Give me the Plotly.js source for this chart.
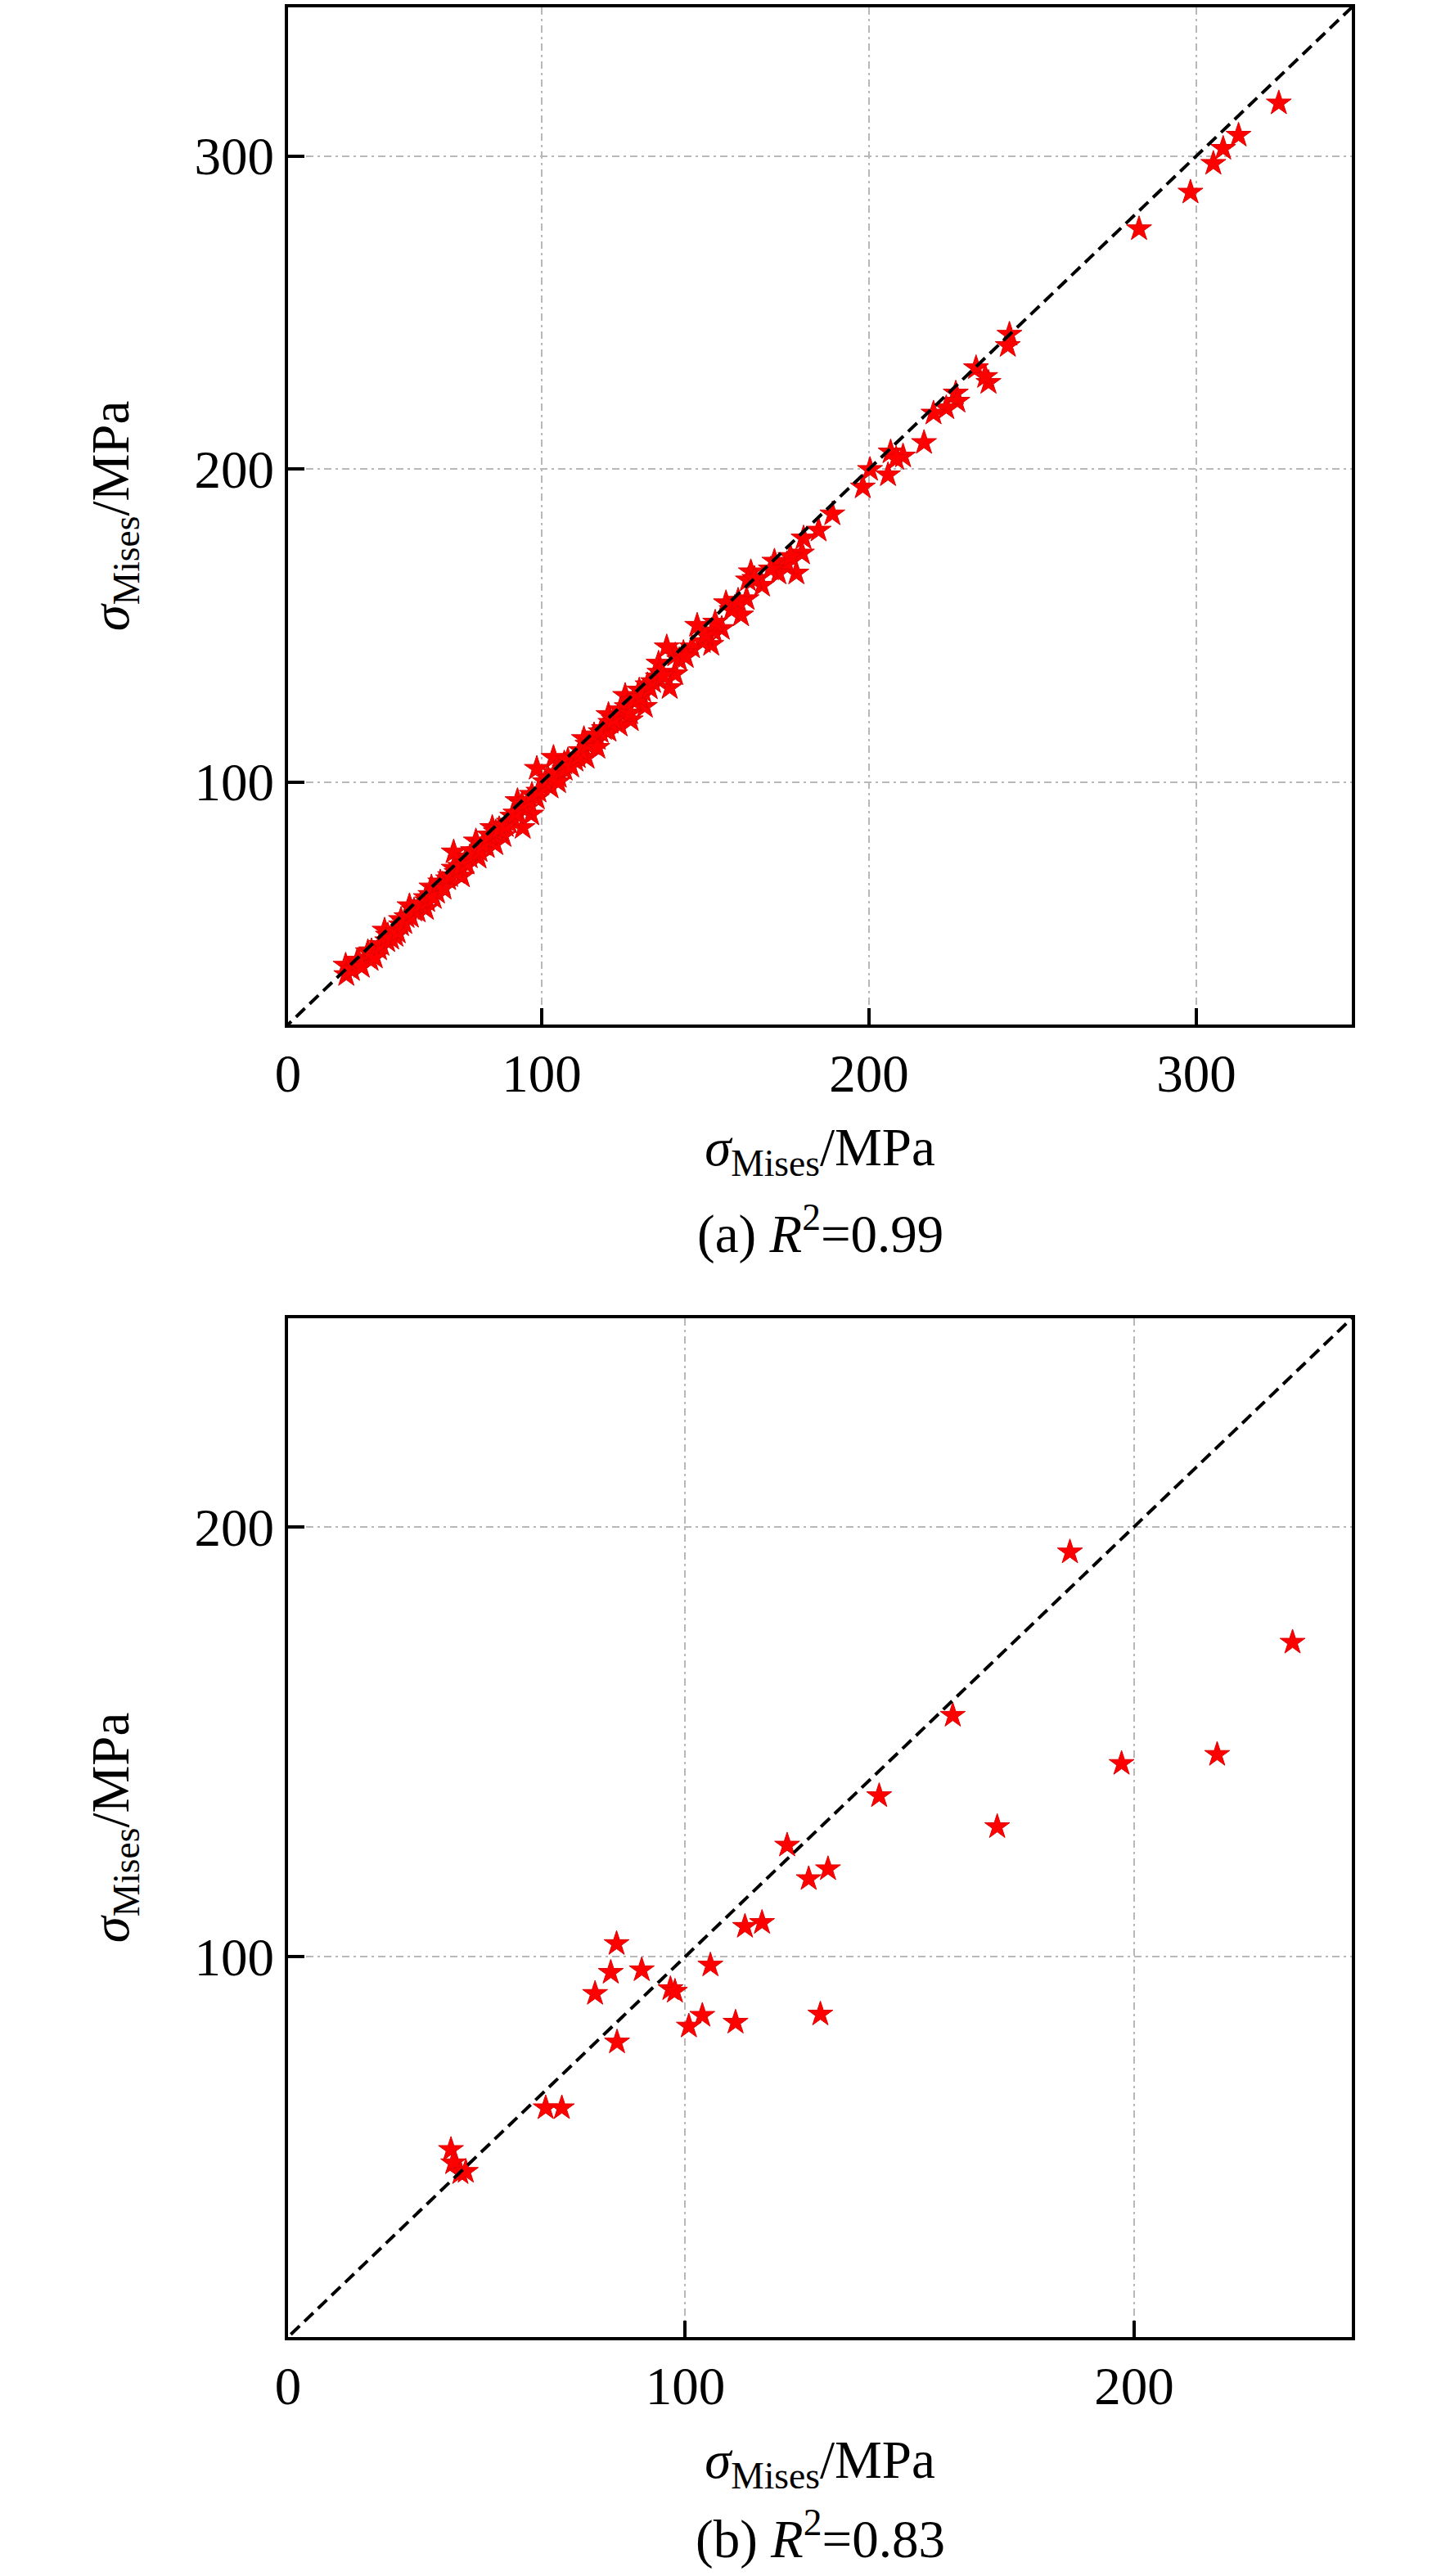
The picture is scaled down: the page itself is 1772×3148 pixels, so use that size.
<!DOCTYPE html>
<html>
<head>
<meta charset="utf-8">
<script src="https://cdn.plot.ly/plotly-3.0.1.min.js"></script>
<style>
  html, body { margin: 0; padding: 0; background: #fff; }
  #chart { width: 1772px; height: 3148px; }
</style>
</head>
<body>
<div id="chart"></div>
<script>
// Two parity plots (a) / (b): sigma_Mises vs sigma_Mises, red stars + dashed y=x line.

// ---- panel (a) data ----
const aX = [
  325.2, 312.9, 308.2, 305.2, 298.2, 282.5, 242.9, 242.4, 232.7, 236.5, 235.5, 226.5, 227.0, 223.6, 219.7,
  216.8, 210.4, 206.6, 208.3, 205.8, 200.3, 198.1, 188.8, 184.6, 180.0, 179.5, 177.8, 174.9, 172.3, 171.1,
  167.3, 163.9, 163.0, 162.6, 160.9, 156.3, 155.0, 152.6, 151.8, 149.2, 147.5, 145.9, 143.3, 140.8, 140.8,
  139.1, 138.2, 135.7, 135.5, 132.3, 131.5, 129.8, 127.2, 125.5, 123.8, 120.4, 120.4, 117.1, 115.4, 113.7,
  112.9, 110.3, 106.9, 105.2, 103.6, 102.7, 98.5, 98.5, 96.8, 95.1, 94.2, 92.6, 90.0, 88.3, 85.8,
  84.9, 83.2, 80.7, 79.9, 76.5, 75.6, 73.1, 73.1, 71.4, 69.7, 68.0, 66.3, 64.6, 64.6, 62.1,
  59.6, 58.7, 57.0, 55.3, 52.0, 52.8, 50.3, 46.9, 47.7, 43.5, 40.1, 40.3,
  42, 44, 45, 48, 49, 51, 53, 54, 56, 57, 58, 60, 61, 63, 65, 66, 67, 69, 70, 72,
  74, 75, 77, 78, 79, 81, 82, 84, 86, 87, 89, 91, 92, 94, 96, 97, 99, 101, 102, 104,
  105, 107, 108, 109, 111, 112, 114, 116, 117, 118, 119, 121, 122, 124, 126, 127, 128, 130, 131, 133,
  134, 136, 137, 142, 144, 150, 153, 158, 160, 165, 170, 176
];
const aY = [
  316.9, 306.6, 302.4, 297.6, 288.4, 276.7, 243.0, 239.4, 232.3, 227.6, 229.5, 224.2, 221.6, 219.5, 217.8,
  208.4, 204.1, 205.4, 203.3, 198.1, 199.8, 194.2, 185.6, 180.4, 177.9, 173.1, 166.7, 169.7, 166.7, 170.5,
  162.8, 167.1, 164.5, 158.5, 153.3, 157.2, 149.0, 148.2, 143.9, 144.8, 150.0, 143.1, 141.3, 140.5, 134.5,
  130.1, 143.1, 137.9, 133.5, 131.0, 124.1, 129.3, 119.8, 127.6, 118.1, 116.4, 121.5, 113.8, 112.1, 107.8,
  113.8, 106.9, 106.0, 101.7, 107.8, 98.3, 94.8, 104.3, 89.7, 91.4, 85.4, 94.0, 87.1, 82.8, 80.2,
  85.4, 79.3, 75.9, 81.1, 74.2, 69.9, 72.4, 77.6, 69.0, 67.3, 64.7, 66.4, 63.0, 59.5, 58.7,
  60.4, 56.9, 54.3, 50.9, 52.6, 49.2, 46.6, 45.7, 43.2, 42.3, 41.4, 38.4,
  40, 43, 41, 46, 44, 48, 51, 50, 52, 56, 55, 57, 59, 61, 62, 64, 63, 68, 66, 70,
  71, 73, 74, 76, 78, 78, 80, 83, 84, 85, 86, 89, 90, 93, 94, 96, 97, 100, 101, 103,
  100, 104, 107, 105, 108, 110, 112, 115, 111, 116, 117, 119, 120, 123, 124, 122, 126, 127, 129, 130,
  132, 135, 134, 139, 140, 147, 151, 155, 158, 165, 168, 172
];

// ---- panel (b) data ----
const bX = [
  185.7, 235.3, 159.6, 197.2, 218.5, 143.2, 169.5, 122.7, 127.5, 131.8,
  113.3, 117.1, 84.7, 105.6, 90.3, 83.4, 79.9, 96.7, 97.7, 103.8,
  100.8, 111.2, 130.1, 84.8, 68.9, 72.5, 47.8, 48.3, 49.9, 51.1
];
const bY = [
  194.1, 173.1, 156.1, 144.9, 147.0, 137.4, 130.2, 125.9, 118.1, 120.4,
  107.0, 107.9, 103.0, 98.0, 96.9, 96.3, 91.4, 92.5, 91.9, 86.3,
  83.8, 84.7, 86.6, 80.1, 64.8, 64.8, 55.1, 52.0, 49.7, 50.0
];

// axis ranges, ticks and the y = x reference line
const aRange = [22.5, 347.5];
const bRange = [11.5, 248.5];
const aTicks = [100, 200, 300];
const bTicks = [100, 200];
const identity = [0, 400];

const W = 1772, H = 3148;
const FONT = '"Liberation Serif", "Times New Roman", Times, serif';
const AXIS_TITLE = '<i>σ</i><sub>Mises</sub>/MPa';
const py = px => 1 - px / H;   // pixel row -> paper fraction

function baseAxis(range) {
  return {
    range, autorange: false, automargin: false,
    ticks: "inside", ticklen: 20, tickwidth: 4, tickcolor: "#000",
    showline: true, linewidth: 4, linecolor: "#000", mirror: true,
    showgrid: true, gridcolor: "#b8b8b8", gridwidth: 2, griddash: "9px,5px,3px,5px",
    zeroline: false,
    tickfont: { family: FONT, size: 65, color: "#000" },
  };
}

function xAxis(range, ticks, anchor, standoff) {
  return Object.assign(baseAxis(range), {
    anchor, domain: [0, 1],
    tickmode: "array",
    tickvals: [range[0], ...ticks],
    ticktext: ["0", ...ticks.map(String)],
    title: { text: AXIS_TITLE, font: { family: FONT, size: 65, color: "#000" }, standoff },
  });
}

function yAxis(range, ticks, anchor, domain, standoff) {
  return Object.assign(baseAxis(range), {
    anchor, domain,
    tickmode: "array", tickvals: ticks, ticktext: ticks.map(String),
    title: { text: AXIS_TITLE, font: { family: FONT, size: 65, color: "#000" }, standoff },
  });
}

const starMarker = { symbol: "star", size: 23, color: "#ff0000", line: { color: "#e00000", width: 1 } };
const dashLine = { color: "#000", width: 4, dash: "15px,8px" };

const traces = [
  { type: "scatter", mode: "markers", x: aX, y: aY, xaxis: "x", yaxis: "y", marker: starMarker, showlegend: false },
  { type: "scatter", mode: "lines", x: identity, y: identity, xaxis: "x", yaxis: "y", line: dashLine, showlegend: false },
  { type: "scatter", mode: "markers", x: bX, y: bY, xaxis: "x2", yaxis: "y2", marker: starMarker, showlegend: false },
  { type: "scatter", mode: "lines", x: identity, y: identity, xaxis: "x2", yaxis: "y2", line: dashLine, showlegend: false },
];

function caption(text, xref, yPix) {
  return {
    text, xref, x: 0.5, xanchor: "center",
    yref: "paper", y: py(yPix), yanchor: "middle",
    showarrow: false,
    font: { family: FONT, size: 65, color: "#000" },
  };
}

const layout = {
  width: W, height: H,
  margin: { l: 352, r: 120, t: 0, b: 0 },
  paper_bgcolor: "#fff", plot_bgcolor: "#fff",
  showlegend: false,
  xaxis:  xAxis(aRange, aTicks, "y", 32),
  yaxis:  yAxis(aRange, aTicks, "x", [py(1252), py(9)], 60),
  xaxis2: xAxis(bRange, bTicks, "y2", 32),
  yaxis2: yAxis(bRange, bTicks, "x2", [py(2856), py(1611)], 60),
  annotations: [
    caption("(a) <i>R</i><sup>2</sup>=0.99", "x domain", 1503),
    caption("(b) <i>R</i><sup>2</sup>=0.83", "x2 domain", 3098),
  ],
};

Plotly.newPlot("chart", traces, layout, { staticPlot: true, displayModeBar: false });
</script>
</body>
</html>
